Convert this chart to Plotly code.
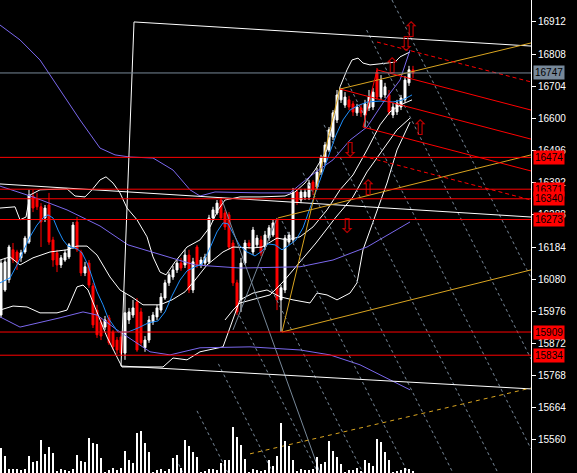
import plotly.graph_objects as go

# ---------------- candle data (index = bar number) ----------------
bar_index = list(range(104))
open_ = [15964,16045,16078,16175,16168,16149,16168,16200,16349,16339,
         16314,16278,16320,16207,16165,16126,16142,16152,16184,16265,
         16168,16100,16132,16058,15980,15942,15925,15955,15909,15883,
         15893,15841,15948,15964,16006,15974,15858,15883,15942,15958,
         15980,16019,16068,16087,16110,16132,16126,16158,16045,16184,
         16126,16132,16136,16278,16294,16336,16294,16288,16197,16068,
         16013,16132,16197,16168,16191,16207,16184,16213,16223,16272,
         16013,16045,16200,16207,16362,16336,16346,16346,16394,16378,
         16427,16459,16498,16540,16595,16660,16643,16660,16647,16618,
         16634,16611,16634,16637,16750,16669,16676,16676,16611,16621,
         16637,16660,16715,16757]
high = [16142,16149,16191,16197,16175,16175,16220,16369,16369,16359,
        16326,16320,16359,16217,16175,16158,16175,16197,16265,16281,
        16175,16136,16142,16068,15997,15955,15961,15964,15916,15893,
        15906,16035,15987,16013,16019,15987,15896,15961,15974,15997,
        16035,16078,16103,16123,16142,16149,16175,16175,16149,16191,
        16152,16162,16288,16314,16336,16346,16304,16297,16207,16078,
        16149,16207,16207,16249,16223,16220,16236,16255,16272,16278,
        16061,16223,16233,16375,16372,16372,16372,16401,16401,16440,
        16482,16524,16572,16627,16692,16698,16685,16673,16656,16647,
        16647,16660,16692,16698,16763,16740,16715,16692,16650,16660,
        16676,16737,16770,16770]
low = [15955,16039,16068,16132,16110,16136,16162,16194,16297,16304,
       16184,16265,16191,16120,16103,16116,16136,16145,16178,16168,
       16090,16090,16052,15922,15890,15883,15916,15867,15851,15838,
       15832,15819,15935,15955,15845,15864,15845,15874,15932,15948,
       15971,16013,16058,16078,16100,16107,16116,16035,16035,16116,
       16116,16123,16129,16268,16288,16272,16239,16175,16058,15964,
       15974,16126,16178,16158,16181,16155,16175,16204,16217,15980,
       15909,16035,16191,16197,16320,16326,16336,16336,16352,16369,
       16417,16449,16491,16530,16585,16650,16634,16627,16608,16608,
       16605,16572,16624,16627,16660,16660,16666,16611,16601,16611,
       16627,16650,16705,16731]
close = [16132,16136,16184,16142,16136,16165,16213,16352,16310,16314,
         16265,16310,16200,16142,16126,16149,16165,16191,16255,16175,
         16100,16120,16061,15932,15900,15896,15948,15874,15861,15851,
         15841,15971,15974,15987,15851,15874,15883,15948,15964,15987,
         16022,16068,16094,16110,16132,16116,16158,16045,16136,16126,
         16142,16152,16278,16304,16326,16278,16249,16184,16068,15974,
         16132,16197,16187,16239,16213,16165,16223,16246,16262,16013,
         16052,16213,16223,16359,16330,16362,16362,16391,16369,16427,
         16472,16514,16563,16618,16676,16692,16669,16637,16621,16637,
         16618,16647,16669,16685,16669,16724,16702,16621,16637,16650,
         16666,16724,16757,16747]
volume = [25,17,4,4,4,3,4,17,11,12,33,19,26,20,2,4,3,2,4,18,
          12,11,35,30,29,15,1,3,5,3,5,22,13,10,40,42,30,21,1,3,
          4,2,4,15,18,5,33,27,21,16,1,2,4,4,3,10,13,13,46,36,
          28,14,1,4,3,2,3,13,7,17,50,32,27,13,2,4,3,3,4,16,
          9,11,32,22,16,9,1,3,3,5,2,13,10,7,34,31,21,13,1,2,
          3,5,4,2]

# ---------------- price axis ----------------
price_ticks = [16912,16808,16704,16600,16496,16392,16288,16184,16080,15976,15872,15768,15664,15560]
red_levels = [16474,16371,16340,16273,15909,15834]
last_price = 16747

# ---------------- indicator lines (bar index, price) ----------------
ma_fast_x = [-0.25,2.25,4,5.5,7.25,9,10.5,11.75,13,14.25,15.5,16.75,19,20.25,21.75,24,25.5,26.75,29.25,31.75,
             34.25,36.75,39.25,41,42.75,44.75,46.5,48.5,50.25,52.25,54,55.5,56.75,58,59.75,61.5,63.5,65.25,66.75,68.5,
             70.25,71.75,73.75,75.5,77.25,78.75,80.5,82.25,83.75,85.5,87.25,89,91.5,94.75,98,100.5,102.75]
ma_fast_y = [16068,16084,16126,16168,16217,16255,16278,16288,16278,16239,16207,16187,16178,16165,16126,16039,15997,15955,15909,15909,
             15922,15938,15945,15974,16026,16077,16107,16120,16129,16181,16233,16262,16259,16229,16187,16168,16155,16171,16194,16191,
             16175,16187,16207,16246,16310,16369,16427,16491,16546,16595,16627,16640,16653,16656,16653,16660,16676]

ma_hi_x = [-0.25,4.75,9.75,14.75,19.75,24.75,28.5,32.25,38,43,47.25,49.75,53.5,64.75,72.25,75.5,78.75,83,87.25,91.5,96,99.75,102.25]
ma_hi_y = [16902,16854,16789,16692,16595,16504,16482,16475,16472,16433,16369,16349,16362,16359,16359,16394,16427,16466,16530,16572,16660,16724,16821]
ma_mid_x = [-0.25,8,16.5,24.75,31.75,40.25,48.5,59.75,74.75,83,91.5,102.25]
ma_mid_y = [16381,16346,16304,16252,16191,16158,16126,16116,16120,16142,16184,16265]
ma_lo_x = [-0.25,4.75,14.75,20.5,24,29,37.25,42.25,49.75,62.25,74.75,82.25,89.75,97.25,102.25]
ma_lo_y = [15958,15925,15955,15974,15964,15916,15845,15835,15858,15861,15851,15835,15803,15754,15722]

bb_up_x = [-0.25,3.5,4.75,6.25,7.25,9.75,16.5,18.5,21,22.75,24.75,26.25,28,29.75,31.5,34,36.5,38,39.75,41.25,
           43.5,46.5,49.75,52.25,54.25,56,59.75,64.75,71,73.5,76,78.5,81.5,83.5,84.75,86.5,87.75,89.25,90.5,92.25,
           96.5,98.5,99.75,102.25]
bb_up_y = [16310,16314,16272,16281,16352,16369,16372,16349,16346,16369,16401,16411,16391,16359,16310,16272,16217,16152,16103,16094,
           16136,16184,16207,16249,16304,16336,16346,16346,16349,16362,16391,16433,16498,16611,16702,16757,16789,16795,16779,16773,
           16779,16782,16799,16815]
bb_mid_x = [-0.25,2.25,4.75,8,12.25,16.5,19,21.5,24,27.25,29.75,32.75,35.5,39.75,42.75,46,48.5,51.5,55.5,58,
            63,65.25,69,71.5,74.75,78,81.5,84.75,88,91.5,94.75,97.25,99.75,102.75]
bb_mid_y = [16142,16152,16126,16149,16168,16175,16187,16187,16158,16087,16045,16022,15997,15997,16013,16039,16077,16126,16168,16184,
            16181,16184,16213,16207,16217,16249,16304,16369,16417,16498,16579,16621,16643,16660]
bb_low_x = [-0.25,3,6.5,9.75,14,16.5,19,20.5,21.75,24,26.5,29,30.25,40.5,43,46.5,49.75,55.5,59.75,63,
            66.5,69.75,73,77.25,79,81.5,84,87.25,89,90.5,94,96.5,99,102.25]
bb_low_y = [15980,15993,15990,15971,15971,15980,16055,16061,16045,15971,15893,15828,15796,15796,15825,15819,15845,15861,16013,16035,
            16045,16023,16013,16003,16035,16029,16013,16035,16068,16175,16304,16391,16498,16588]
bb_in_x = [56,58,59.75,64,67.25,70.5,74.75,78.75,83.75,88,91.5,95.5,99,102.25]
bb_in_y = [15948,15980,16003,16019,16029,16071,16136,16197,16281,16346,16427,16498,16563,16601]

# ---------------- drawn objects (bar index, price) ----------------
frame_x = [132.5,33.25,30,132.5]
frame_y = [16834,16912,15799,15725]
trend_white_x = [-0.25,132.5]
trend_white_y = [16388,16281]

gold_lines = [([70.25,132.5],[15909,16110]),
              ([70.25,84.75],[15909,16698]),
              ([69.25,132.5],[16278,16482]),
              ([84.75,132.5],[16695,16844])]
gold_dash_x = [62.25,132.5]
gold_dash_y = [15515,15728]

fork_solid = [([84.75,132.5],[16695,16533]),
              ([94,132.5],[16757,16627]),
              ([90.5,132.5],[16572,16430]),
              ([90.5,94],[16572,16757])]
fork_dash = [([94,132.5],[16847,16718]),
             ([90.5,132.5],[16478,16336])]

gray_solid = [([55.25,79.75],[16336,15453]),
              ([69,58],[16278,15916])]
gray_dash_start_x = [43.75,49,54.35,59.65,64.95,70.25,75.5,80.75,86.1,91.4,97.75]
gray_dash_start_y = [15499,15654,15806,15961,16116,16268,16424,16579,16731,16886,16983]
gray_dash_end_x = [45.5,56.75,68,79.25,90.5,101.75,113,124.25,132.5,132.5,132.5]
gray_dash_end_y = [15453,15453,15453,15453,15453,15453,15453,15453,15531,15822,16084]

arrow_x = [102.5,101.25,97.75,104.75,91.75,86.5,87.25]
arrow_y = [16880,16834,16763,16563,16369,16246,16491]
arrow_txt = ['⇧','⇩','⇧','⇧','⇧','⇩','⇩']

# ---------------- figure ----------------
fig = go.Figure()

fig.add_trace(go.Bar(x=bar_index, y=volume, yaxis='y2', width=0.25,
                     marker=dict(color='white', line=dict(width=0)), hoverinfo='skip'))

fig.add_trace(go.Candlestick(x=bar_index, open=open_, high=high, low=low, close=close,
                             increasing=dict(line=dict(color='white', width=1), fillcolor='white'),
                             decreasing=dict(line=dict(color='#ff0000', width=1), fillcolor='#ff0000'),
                             whiskerwidth=0, hoverinfo='skip'))

def line(x, y, color, width=1, dash='solid'):
    fig.add_trace(go.Scatter(x=x, y=y, mode='lines', hoverinfo='skip',
                             line=dict(color=color, width=width, dash=dash)))

WHITE = '#ffffff'
for xs, ys in [(bb_up_x, bb_up_y), (bb_mid_x, bb_mid_y), (bb_low_x, bb_low_y), (bb_in_x, bb_in_y)]:
    line(xs, ys, WHITE)
for xs, ys in [(ma_hi_x, ma_hi_y), (ma_mid_x, ma_mid_y), (ma_lo_x, ma_lo_y)]:
    line(xs, ys, '#7b68ee')
line(ma_fast_x, ma_fast_y, '#1e90ff')

for k in range(len(gray_dash_start_x)):
    line([gray_dash_start_x[k], gray_dash_end_x[k]], [gray_dash_start_y[k], gray_dash_end_y[k]],
         '#778899', 1, '3px,3px')
for xs, ys in gray_solid:
    line(xs, ys, '#778899')

line(frame_x, frame_y, WHITE)
line(trend_white_x, trend_white_y, WHITE)
for xs, ys in gold_lines:
    line(xs, ys, '#daa520')
line(gold_dash_x, gold_dash_y, '#daa520', 1, '4px,4px')
for xs, ys in fork_solid:
    line(xs, ys, '#ff0000')
for xs, ys in fork_dash:
    line(xs, ys, '#ff0000', 1, '4px,3px')

for lvl in red_levels:
    fig.add_hline(y=lvl, line=dict(color='#ff0000', width=1))
fig.add_hline(y=last_price, line=dict(color='#778899', width=1))

fig.add_trace(go.Scatter(x=arrow_x, y=arrow_y, mode='text', text=arrow_txt, hoverinfo='skip',
                         textfont=dict(color='#c00000', size=21, family='DejaVu Sans')))

annotations = []
for lvl in red_levels:
    annotations.append(dict(x=1, xref='paper', y=lvl, yref='y', xanchor='left', yanchor='middle',
                            xshift=2, text=str(lvl), showarrow=False, bgcolor='#ff0000',
                            borderpad=1, font=dict(color='black', size=10, family='Liberation Sans')))
annotations.append(dict(x=1, xref='paper', y=last_price, yref='y', xanchor='left', yanchor='middle',
                        xshift=2, text=str(last_price), showarrow=False, bgcolor='#778899',
                        borderpad=1, font=dict(color='black', size=10, family='Liberation Sans')))

fig.update_layout(
    width=577, height=473, autosize=False,
    margin=dict(l=0, r=46, t=0, b=0),
    paper_bgcolor='black', plot_bgcolor='black',
    showlegend=False, bargap=0,
    annotations=annotations,
    xaxis=dict(range=[-0.25, 132.5], showgrid=False, zeroline=False, showticklabels=False,
               ticks='', rangeslider=dict(visible=False), fixedrange=True),
    yaxis=dict(range=[15453, 16983], side='right', showgrid=False, zeroline=False,
               tickvals=price_ticks, ticktext=[str(v) for v in price_ticks],
               ticks='outside', ticklen=4, tickcolor='white',
               tickfont=dict(color='white', size=10, family='Liberation Sans'),
               showline=True, linecolor='white', linewidth=1, fixedrange=True),
    yaxis2=dict(range=[0, 473], overlaying='y', visible=False, fixedrange=True),
)

fig.write_html("out.html", config=dict(displayModeBar=False),
               post_script="document.body.style.margin='0';")
